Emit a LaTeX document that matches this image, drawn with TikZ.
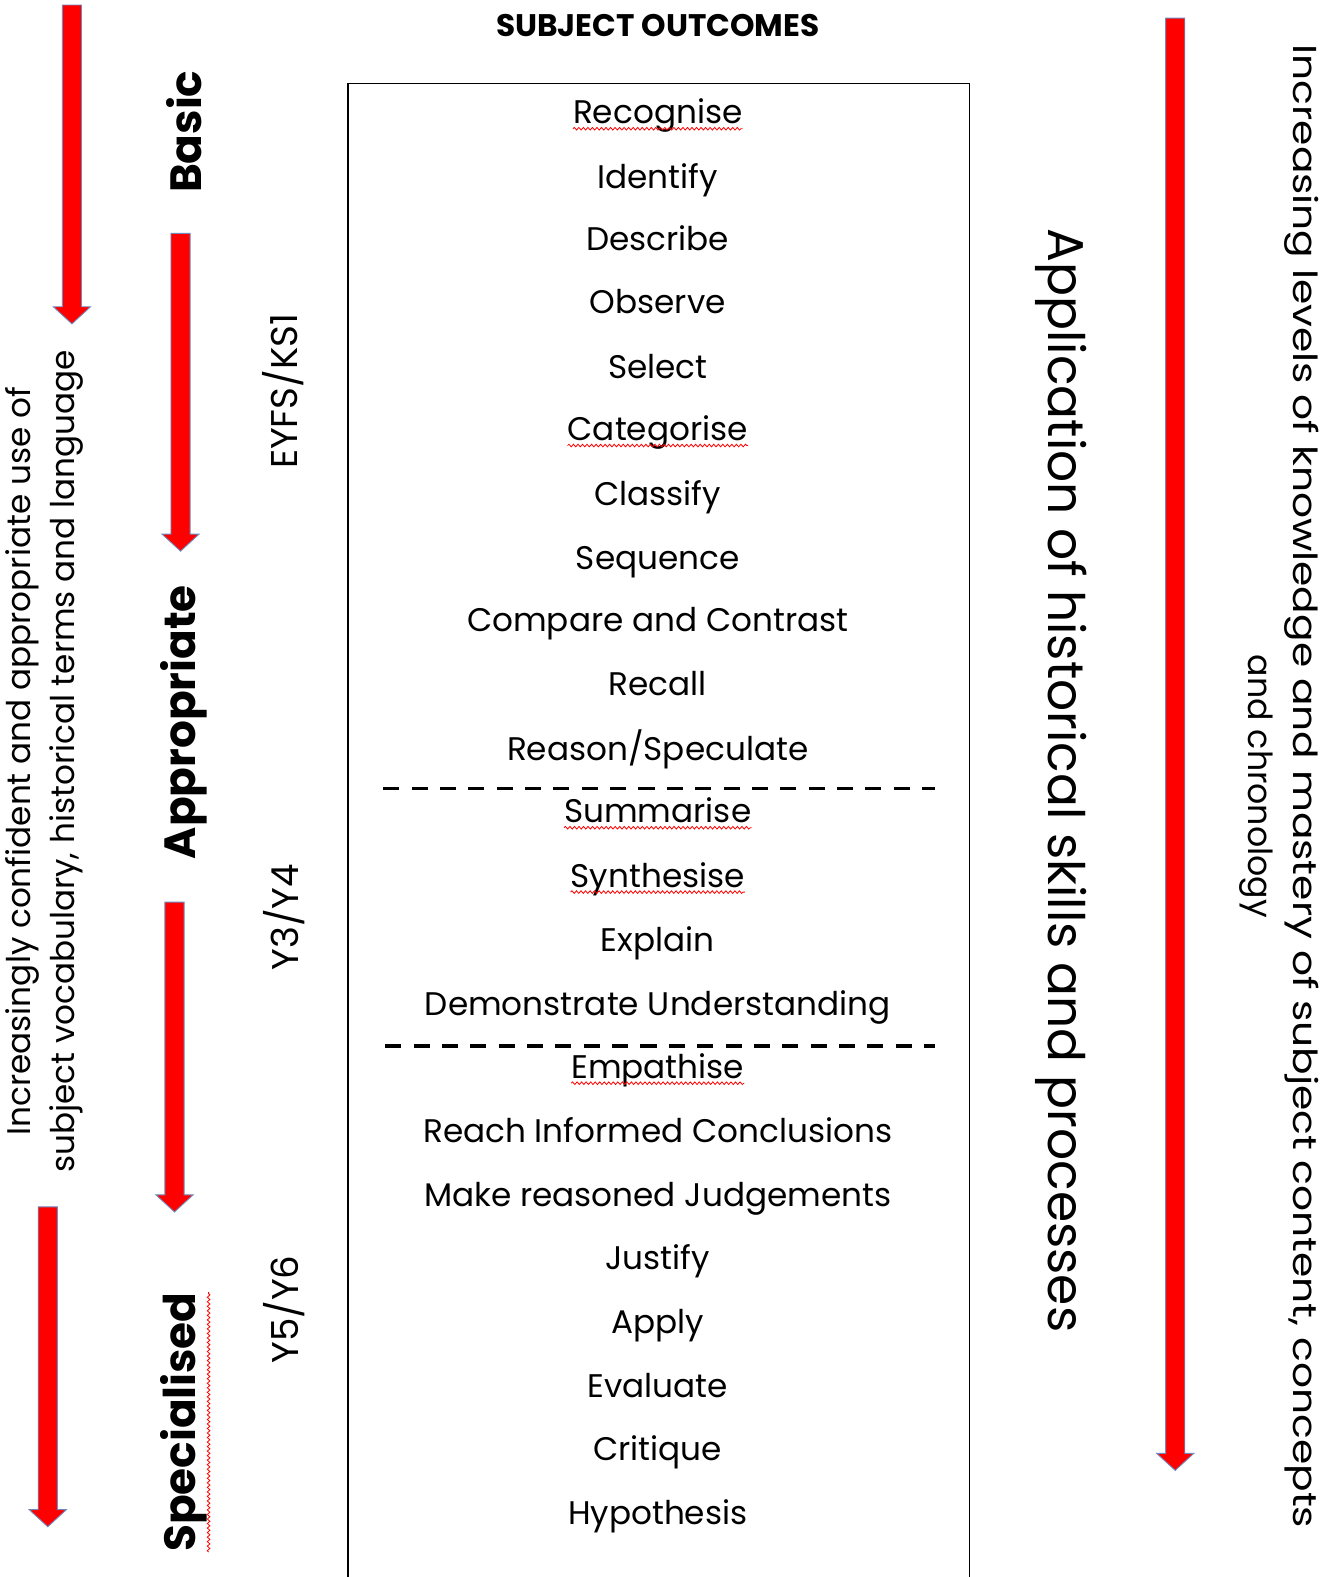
\documentclass[tikz,border=0pt]{standalone}
\usepackage{fontspec}
\setmainfont{Poppins}
\usetikzlibrary{decorations.pathmorphing}

\definecolor{arrowred}{RGB}{255,0,0}
\definecolor{arrowedge}{RGB}{110,140,190}

% vertical block arrow: centre x, top y, tip y
\newcommand\blockarrow[3]{%
  \draw[blockarrowstyle] ({#1-9.5},#2) -- ({#1+9.5},#2) -- ({#1+9.5},{#3-17})
    -- ({#1+18.5},{#3-17}) -- (#1,#3) -- ({#1-18.5},{#3-17})
    -- ({#1-9.5},{#3-17}) -- cycle;}

\tikzset{
  blockarrowstyle/.style={fill=arrowred, draw=arrowedge, line width=0.9pt, line join=miter},
  item/.style={anchor=base, inner sep=0pt, font=\fontsize{32.5}{38}\selectfont},
  level/.style={rotate=90, inner sep=0pt, font=\bfseries\fontsize{43.5}{52}\selectfont},
  stage/.style={rotate=90, inner sep=0pt, font=\fontsize{37}{44}\selectfont},
  spell/.style={draw=red, line width=0.8pt, decorate,
    decoration={snake, amplitude=1.3pt, segment length=4.5pt}},
  divider/.style={line width=3.4pt, dash pattern=on 16pt off 12.2pt},
}

\begin{document}
\begin{tikzpicture}[x=1pt, y=-1pt]
\useasboundingbox[fill=white] (0,0) rectangle (1326,1568);

% heading
\node[font=\bfseries\fontsize{31}{36}\selectfont, inner sep=0pt] (title) at (654,25) {SUBJECT OUTCOMES};

% outcomes frame, open at the bottom edge
\draw[line width=1.4pt] (346,1580) -- (346,83) -- (964,83) -- (964,1580);

% outcomes list
\foreach \txt/\yy/\nm in {
  Recognise/111/o1, Identify/175/o2, Describe/237/o3, Observe/300/o4,
  Select/364/o5, Categorise/426/o6, Classify/491/o7, Sequence/554/o8,
  Compare and Contrast/616/o9, Recall/680/o10, Reason\slash Speculate/744/o11,
  Summarise/806/o12, Synthesise/870/o13, Explain/934/o14,
  Demonstrate Understanding/998/o15, Empathise/1060/o16,
  Reach Informed Conclusions/1124/o17, Make reasoned Judgements/1188/o18,
  Justify/1250/o19, Apply/1314/o20, Evaluate/1378/o21, Critique/1440/o22,
  Hypothesis/1504/o23}
  \node[item] (\nm) at (654,\yy+12) {\txt};

% spell-check underlines
\foreach \nm in {o1,o6,o12,o13,o16}
  \draw[spell] ([yshift=-5pt]\nm.base west) -- ([yshift=-5pt]\nm.base east);

% stage dividers
\coordinate (d1a) at (381,784); \coordinate (d1b) at (930,784);
\coordinate (d2a) at (383,1040); \coordinate (d2b) at (930,1040);
\draw[divider] (d1a) -- (d1b);
\draw[divider] (d2a) -- (d2b);

% level labels
\node[level] (basic) at (183,131) {Basic};
\node[level] (appr) at (183,718) {Appropriate};
\node[level] (spec) at (183,1414) {Specialised};
\draw[spell] ([xshift=1pt]spec.south west) -- ([xshift=1pt]spec.south east);

% key stage labels
\node[stage] (ks1) at (282,389) {EYFS/KS1};
\node[stage] (ks2a) at (283,912) {Y3/Y4};
\node[stage] (ks2b) at (283,1302) {Y5/Y6};

% left-hand description
\node[rotate=90, align=center, inner sep=0pt, font=\fontsize{32.5}{44}\selectfont] (vocab) at (44,757)
  {Increasingly confident and appropriate use of\\subject vocabulary, historical terms and language};

% right-hand descriptions
\node[rotate=-90, inner sep=0pt, font=\fontsize{50}{58}\selectfont] (skills) at (1055,776)
  {Application of historical skills and processes};
\node[rotate=-90, align=center, inner sep=0pt, font=\fontsize{33}{45}\selectfont] (mastery) at (1272,782)
  {\resizebox{1475pt}{\height}{Increasing levels of knowledge and mastery of subject content, concepts}\\and chronology};

% progression arrows
\blockarrow{71.5}{5}{322}
\blockarrow{179.5}{232}{548}
\blockarrow{173.5}{897}{1205}
\blockarrow{47.5}{1200}{1518}
\blockarrow{1168.5}{18}{1462}
\end{tikzpicture}
\end{document}
